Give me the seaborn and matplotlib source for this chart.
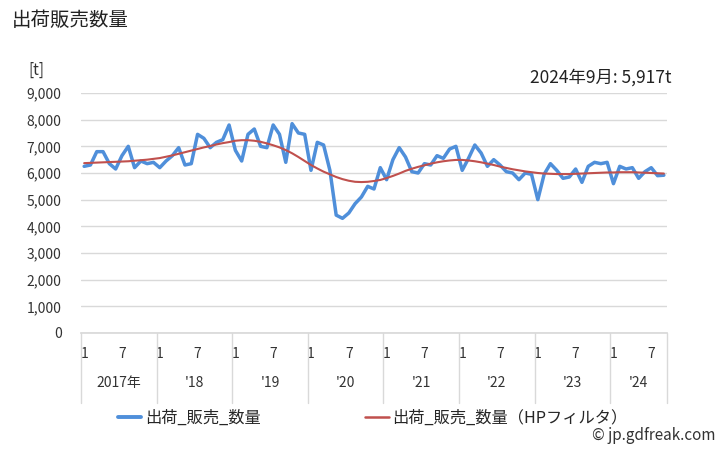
import matplotlib
matplotlib.use("Agg")
import matplotlib.pyplot as plt
import seaborn as sns
import pandas as pd
import numpy as np
from matplotlib.lines import Line2D

# ---- data ----
years = [2017, 2018, 2019, 2020, 2021, 2022, 2023, 2024]
year_labels = ["2017年", "'18", "'19", "'20", "'21", "'22", "'23", "'24"]
months_in_year = [12, 12, 12, 12, 12, 12, 12, 9]

shipments = [
    6250, 6300, 6800, 6800, 6350, 6150, 6650, 7000, 6200, 6450, 6350, 6400,   # 2017
    6200, 6450, 6650, 6950, 6300, 6350, 7450, 7300, 6950, 7150, 7250, 7800,   # 2018
    6850, 6450, 7450, 7650, 7000, 6950, 7800, 7450, 6400, 7850, 7500, 7450,   # 2019
    6100, 7150, 7050, 6100, 4420, 4300, 4500, 4850, 5100, 5500, 5400, 6200,   # 2020
    5750, 6500, 6950, 6600, 6050, 6000, 6350, 6300, 6650, 6550, 6900, 7000,   # 2021
    6100, 6550, 7050, 6750, 6250, 6500, 6300, 6050, 6000, 5750, 6000, 5950,   # 2022
    5000, 5950, 6350, 6100, 5800, 5850, 6150, 5650, 6250, 6400, 6350, 6400,   # 2023
    5600, 6250, 6150, 6200, 5800, 6050, 6200, 5900, 5917,                     # 2024
]
hp_trend = [
    6370, 6380, 6390, 6400, 6410, 6420, 6430, 6440, 6460, 6480, 6500, 6530,
    6560, 6610, 6660, 6720, 6780, 6840, 6900, 6960, 7010, 7070, 7120, 7160,
    7210, 7230, 7230, 7210, 7170, 7110, 7040, 6960, 6860, 6740, 6600, 6450,
    6300, 6170, 6050, 5950, 5850, 5770, 5710, 5670, 5660, 5670, 5700, 5740,
    5810, 5890, 5980, 6080, 6160, 6230, 6290, 6350, 6400, 6440, 6470, 6490,
    6490, 6470, 6440, 6400, 6350, 6300, 6240, 6190, 6140, 6100, 6060, 6030,
    6000, 5980, 5970, 5960, 5960, 5960, 5970, 5980, 5990, 6000, 6010, 6020,
    6020, 6030, 6030, 6030, 6020, 6010, 6000, 5990, 5980,
]
y_ticks = [0, 1000, 2000, 3000, 4000, 5000, 6000, 7000, 8000, 9000]

name_a = "出荷_販売_数量"
name_b = "出荷_販売_数量（HPフィルタ）"
annotation = "2024年9月: 5,917t"

# ---- build table ----
month_num = []
for n in months_in_year:
    month_num += list(range(1, n + 1))
idx = list(range(len(shipments)))
df = pd.DataFrame({"idx": idx + idx,
                   "value": shipments + hp_trend,
                   "series": [name_a] * len(idx) + [name_b] * len(idx)})

sns.set_theme(style="white")
plt.rcParams['font.family'] = ['Noto Sans CJK JP', 'DejaVu Sans']

fig = plt.figure(figsize=(7.28, 4.5), dpi=100)
ax = fig.add_axes([81 / 728, 1 - 333 / 450, (667 - 81) / 728, 240 / 450])

blue = "#4F8FDA"
red = "#C0504D"
sns.lineplot(data=df, x="idx", y="value", hue="series",
             palette={name_a: blue, name_b: red}, ax=ax, legend=False,
             estimator=None, sort=False)
lines = ax.get_lines()
lines[0].set_linewidth(2.5)
lines[1].set_linewidth(1.5)
lines[1].set_zorder(3)

ax.set_xlim(-0.5, len(idx) - 0.5)
ax.set_ylim(0, 9000)
ax.set_yticks(y_ticks)
ax.set_yticklabels([f"{v:,}" for v in y_ticks], fontsize=10, color="#333333")
ax.yaxis.grid(True, color="#d9d9d9", linewidth=1)
ax.set_axisbelow(True)
for s in ["left", "right", "top"]:
    ax.spines[s].set_visible(False)
ax.spines["bottom"].set_color("#d9d9d9")
ax.tick_params(axis="both", length=0)
ax.tick_params(axis="y", pad=14)
ax.set_xlabel("")
ax.set_ylabel("")

# month ticks
tick_pos = [i for i, m in zip(idx, month_num) if m in (1, 7)]
tick_lab = [str(m) for m in month_num if m in (1, 7)]
ax.set_xticks(tick_pos)
ax.set_xticklabels(tick_lab, fontsize=10, color="#333333")
ax.tick_params(axis="x", pad=10)

# year separators and labels
trans = ax.get_xaxis_transform()
start = 0
bounds = [-0.5]
for y, lab, n in zip(years, year_labels, months_in_year):
    bounds.append(start + n - 0.5)
    mid = start + (n - 1) / 2
    ax.text(mid, -0.21, lab, transform=trans, ha="center", va="center",
            fontsize=10, color="#333333")
    start += n
for b in bounds:
    ax.plot([b, b], [0, -0.29], transform=trans, color="#d9d9d9",
            linewidth=1, clip_on=False)

# texts
fig.text(12 / 728, 1 - 20 / 450, "出荷販売数量", fontsize=14, ha="left", va="center", color="#222222")
fig.text(28 / 728, 1 - 70 / 450, "[t]", fontsize=11, ha="left", va="center", color="#333333")
fig.text(672 / 728, 1 - 78 / 450, annotation, fontsize=12.5, ha="right", va="center", color="#222222")
fig.text(715 / 728, 1 - 436 / 450, "© jp.gdfreak.com", fontsize=11, ha="right", va="center", color="#333333")

handles = [Line2D([], [], color=blue, linewidth=2.8), Line2D([], [], color=red, linewidth=1.8)]
fig.legend(handles, [name_a, name_b], loc="center", bbox_to_anchor=(0.512, 1 - 418 / 450),
           ncol=2, frameon=False, fontsize=11.7, handlelength=1.45, handletextpad=0.25,
           columnspacing=6.4)

fig.savefig("out.png", dpi=100)
